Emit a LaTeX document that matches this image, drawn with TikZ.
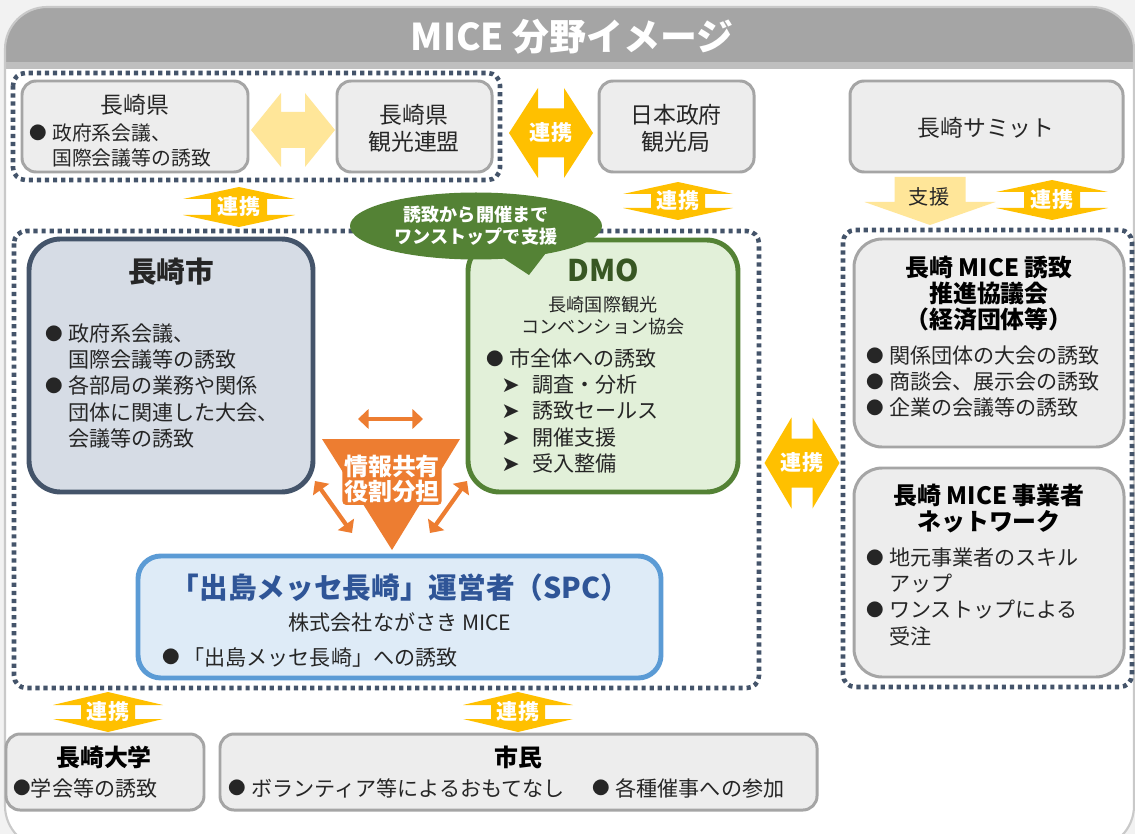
\documentclass[tikz,border=0pt]{standalone}
\usepackage{fontspec}
\setmainfont{Noto Sans CJK JP}
\newfontfamily\dingfont{DejaVu Sans}
\usepackage{tikz}
\usetikzlibrary{positioning,calc,arrows.meta,shapes.geometric}

\definecolor{linkyel}{HTML}{FFC000}
\definecolor{paleyel}{HTML}{FFE699}
\definecolor{boxgray}{HTML}{EDEDED}
\definecolor{boxline}{HTML}{A5A5A5}
\definecolor{grpline}{HTML}{44546A}
\definecolor{cityfill}{HTML}{D6DCE5}
\definecolor{dmofill}{HTML}{E2F0D9}
\definecolor{dmoline}{HTML}{548235}
\definecolor{dmotext}{HTML}{385723}
\definecolor{spcfill}{HTML}{DEEBF7}
\definecolor{spcline}{HTML}{5B9BD5}
\definecolor{spctext}{HTML}{2F5597}
\definecolor{shareorg}{HTML}{ED7D31}
\definecolor{barfill}{HTML}{A5A5A5}
\definecolor{barstrip}{HTML}{BFBFBF}
\definecolor{txt}{HTML}{262626}
\definecolor{pagebg}{HTML}{F2F2F2}
\definecolor{frameline}{HTML}{C9C9C9}

\newlength\pxu
\setlength\pxu{0.02cm}

\newcommand\bul{\raisebox{0.6pt}{\fontsize{10}{9}\selectfont ●}}
\newcommand\bitem{\makebox[13pt][l]{\bul}}
\newcommand\bskip{\hspace*{13pt}}
\newcommand\arritem{\hspace*{8.5pt}\makebox[17.5pt][l]{\dingfont\fontsize{12.5}{9}\selectfont ➤}}

% block arrows: name, centre, half length, half width, half stem, head
\newcommand\hlink[7][linkyel]{\coordinate (#2) at (#3);
  \fill[#1,shift={(#2)}] (-#4,0) -- (-#4+#7,-#5) -- (-#4+#7,-#6) -- (#4-#7,-#6) -- (#4-#7,-#5) -- (#4,0)
    -- (#4-#7,#5) -- (#4-#7,#6) -- (-#4+#7,#6) -- (-#4+#7,#5) -- cycle;}
\newcommand\vlink[7][linkyel]{\coordinate (#2) at (#3);
  \fill[#1,shift={(#2)}] (0,-#4) -- (-#5,-#4+#7) -- (-#6,-#4+#7) -- (-#6,#4-#7) -- (-#5,#4-#7) -- (0,#4)
    -- (#5,#4-#7) -- (#6,#4-#7) -- (#6,-#4+#7) -- (#5,-#4+#7) -- cycle;}

\begin{document}
\begin{tikzpicture}[x=0.02cm, y=-0.02cm,
group/.style={draw=grpline, line width=2.6pt, dash pattern=on 2.4pt off 2.2pt, rounded corners=7pt},
boxsize/.style 2 args={minimum width=#1*\pxu, minimum height=#2*\pxu, inner sep=0pt},
graybox/.style={draw=boxline, line width=1.7pt, fill=boxgray, rounded corners=8pt},
bigbox/.style={graybox, rounded corners=16pt},
citybox/.style={draw=grpline, fill=cityfill, line width=2.8pt, rounded corners=18pt},
dmobox/.style={draw=dmoline, fill=dmofill, line width=2.8pt, rounded corners=18pt},
spcbox/.style={draw=spcline, fill=spcfill, line width=2.8pt, rounded corners=13pt},
ttl/.style={font=\fontsize{21}{24}\selectfont\bfseries, text=white, inner sep=0pt},
org/.style={font=\fontsize{13}{15.5}\selectfont, text=txt, align=center, inner sep=0pt},
body/.style={font=\fontsize{12}{15}\selectfont, text=txt, align=left, inner sep=0pt},
small/.style={font=\fontsize{10.3}{12.5}\selectfont, text=txt, align=center, inner sep=0pt},
head/.style={font=\fontsize{13.6}{15}\selectfont\bfseries, text=black, align=center, inner sep=0pt},
big/.style={font=\fontsize{16.3}{18}\selectfont\bfseries, inner sep=0pt},
linktext/.style={font=\fontsize{12}{14}\selectfont\bfseries, text=white, inner sep=0pt},
bubble/.style={ellipse, fill=dmoline, boxsize={252}{67}, text=white, align=center,
  font=\fontsize{10.3}{12.5}\selectfont\bfseries},
sharetext/.style={font=\fontsize{13.6}{14.4}\selectfont\bfseries, text=white, align=center,
  fill=shareorg, inner sep=1pt, rounded corners=2pt},
sharelink/.style={draw=shareorg, line width=2.4pt, >={Triangle[width=11pt,length=6pt]}, <->}
]
\useasboundingbox (0,0) rectangle (1135,834);
\fill[pagebg] (0,0) rectangle (1135,834);
%Frame and title bar
\begin{scope}
  \clip[rounded corners=24pt] (5,7) rectangle (1134,848);
  \fill[white] (0,0) rectangle (1140,850);
  \fill[barfill] (0,0) rectangle (1140,62);
  \fill[barstrip] (0,62) rectangle (1140,69);
\end{scope}
\draw[frameline, line width=1.2pt, rounded corners=24pt] (5,7) rectangle (1134,848);
\node[ttl] (title) at (572,37) {MICE 分野イメージ};

%Groups
\draw[group] (13,73) rectangle (500,180);
\draw[group] (14,231) rectangle (759,688);
\draw[group] (843,230) rectangle (1132,687);

%Top row
\node[graybox, boxsize={226}{91}] (pref) at (135,126.5) {};
\node[graybox, boxsize={155}{91}] (league) at (414.5,126.5) {};
\node[graybox, boxsize={155}{91}] (jnto) at (676.5,126.5) {};
\node[graybox, boxsize={273}{91}] (summit) at (986.5,126.5) {};
\node[org] (prefname) at (135,105) {長崎県};
\node[body, anchor=north west, font=\fontsize{11.3}{14.2}\selectfont] (preftext) at (29,123) {\bitem 政府系会議、\\\bskip 国際会議等の誘致};
\node[org] (leaguename) at (414,128) {長崎県\\観光連盟};
\node[org] (jntoname) at (676,128) {日本政府\\観光局};
\node[org] (summitname) at (986,128) {長崎サミット};

%Links, top
\hlink[paleyel]{lkpale}{293,130}{42}{37}{18}{30}
\hlink{lkjnto}{551,133}{42}{45}{24.5}{29}
\node[linktext] (lkjntot) at (lkjnto) {連携};
\vlink{lkpref}{239,207}{20}{56}{28}{12}
\node[linktext] (lkpreft) at (lkpref) {連携};
\vlink{lkdmo}{678,201}{19}{55}{27}{12}
\node[linktext] (lkdmot) at (lkdmo) {連携};
\vlink{lksummit}{1052,200}{20}{56}{28}{12}
\node[linktext] (lksummitt) at (lksummit) {連携};
\coordinate (sup) at (930,200);
\fill[paleyel, shift={(sup)}] (-35.5,-23) -- (35.5,-23) -- (35.5,2) -- (65.5,2) -- (0,25) -- (-65.5,2) -- (-35.5,2) -- cycle;
\node[org, font=\fontsize{11.5}{13}\selectfont] (supt) at (929,197) {支援};

%City
\node[citybox, boxsize={284}{253}] (city) at (171,365.5) {};
\node[big, text=txt] (cityname) at (171,272) {長崎市};
\node[body, anchor=north west] (citytext) at (45,323) {\bitem 政府系会議、\\\bskip 国際会議等の誘致\\\bitem 各部局の業務や関係\\\bskip 団体に関連した大会、\\\bskip 会議等の誘致};

%DMO
\node[dmobox, boxsize={270}{252}] (dmo) at (603,366) {};
\node[big, text=dmotext, font=\fontsize{17}{18}\selectfont\bfseries] (dmoname) at (603,270) {DMO};
\node[small] (dmosub) at (603,316) {長崎国際観光\\コンベンション協会};
\node[body, anchor=north west] (dmotext) at (486,348) {\bitem 市全体への誘致\\\arritem 調査・分析\\\arritem 誘致セールス\\\arritem 開催支援\\\arritem 受入整備};

%Bubble
\fill[dmoline] (497,254) -- (529,275) -- (549,249) -- cycle;
\node[bubble] (talk) at (476,226) {誘致から開催まで\\ワンストップで支援};

%Sharing
\fill[shareorg] (322,439) -- (460,439) -- (392,550) -- cycle;
\coordinate (shl) at (358,419);
\coordinate (shr) at (423,419);
\coordinate (sll) at (315,481);
\coordinate (slr) at (352,533);
\coordinate (srl) at (467,481);
\coordinate (srr) at (430,533);
\draw[sharelink] (shl) -- (shr);
\draw[sharelink] (sll) -- (slr);
\draw[sharelink] (srl) -- (srr);
\node[sharetext] (share) at (392,479) {情報共有\\役割分担};

%SPC
\node[spcbox, boxsize={523}{122}] (spc) at (399.5,617) {};
\node[big, text=spctext] (spcname) at (400,588) {「出島メッセ長崎」運営者（SPC）};
\node[body] (spcsub) at (400,622) {株式会社ながさき MICE};
\node[body, anchor=west] (spctext) at (162,657) {\makebox[12pt][l]{\bul}「出島メッセ長崎」への誘致};

%Right side
\hlink{lkright}{802,463}{37.5}{45.5}{24.5}{27}
\node[linktext] (lkrightt) at (lkright) {連携};
\node[bigbox, boxsize={270}{208}] (council) at (989,343) {};
\node[head] (councilname) at (989,293.5) {長崎 MICE 誘致\\推進協議会\\（経済団体等）};
\node[body, anchor=north west] (counciltext) at (866,345) {\bitem 関係団体の大会の誘致\\\bitem 商談会、展示会の誘致\\\bitem 企業の会議等の誘致};
\node[bigbox, boxsize={270}{209}] (network) at (989,572.5) {};
\node[head] (networkname) at (989,508.5) {長崎 MICE 事業者\\ネットワーク};
\node[body, anchor=north west] (networktext) at (866,547) {\bitem 地元事業者のスキル\\\bskip アップ\\\bitem ワンストップによる\\\bskip 受注};

%Bottom row
\vlink{lkuniv}{108,712}{20}{55}{27}{13}
\node[linktext] (lkunivt) at (lkuniv) {連携};
\vlink{lkcitizen}{518,712}{20}{55}{27}{13}
\node[linktext] (lkcitizent) at (lkcitizen) {連携};
\node[graybox, boxsize={198}{76}] (univ) at (105,772) {};
\node[head] (univname) at (104,757) {長崎大学};
\node[body, anchor=west] (univtext) at (13,788) {\bul 学会等の誘致};
\node[graybox, boxsize={597}{76}] (citizen) at (518.5,772) {};
\node[head] (citizenname) at (518,757) {市民};
\node[body, anchor=west] (citizentext) at (228,788) {\bitem ボランティア等によるおもてなし\hspace{16pt}\bitem 各種催事への参加};
\end{tikzpicture}
\end{document}
